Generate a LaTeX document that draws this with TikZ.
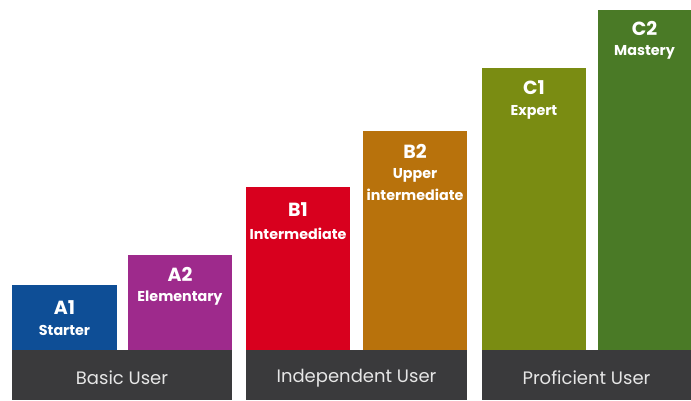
\documentclass[tikz,border=0pt]{standalone}
\usepackage{fontspec}
\setmainfont{Poppins}
\definecolor{cA1}{HTML}{0E4E96}
\definecolor{cA2}{HTML}{9E2A8C}
\definecolor{cB1}{HTML}{D8001E}
\definecolor{cB2}{HTML}{B8720C}
\definecolor{cC1}{HTML}{7A8C12}
\definecolor{cC2}{HTML}{4A7A26}
\definecolor{band}{HTML}{3A3A3C}
\definecolor{bandtxt}{HTML}{E6E6E6}
\tikzset{
  lvl/.style={text=white, font=\fontsize{19}{19}\selectfont\bfseries, inner sep=0pt},
  sub/.style={text=white, font=\fontsize{14.3}{15}\selectfont\bfseries, inner sep=0pt, align=center},
  bandlbl/.style={text=bandtxt, font=\fontsize{18}{18}\selectfont, inner sep=0pt}
}
\begin{document}
\begin{tikzpicture}[x=1pt,y=-1pt]
\useasboundingbox (0,0) rectangle (691,400);
\fill[white] (0,0) rectangle (691,400);
% bars
\fill[cA1] (12,285) rectangle (117,352);
\fill[cA2] (128,255) rectangle (232,352);
\fill[cB1] (246,187) rectangle (350,352);
\fill[cB2] (363,131) rectangle (467,352);
\fill[cC1] (482,68) rectangle (586,352);
\fill[cC2] (598,10) rectangle (691,352);
% bands
\fill[band] (12,350) rectangle (232,400);
\fill[band] (246,350) rectangle (467,400);
\fill[band] (482,350) rectangle (691,400);
% labels
\node[lvl] (a1) at (64.5,308) {A1};
\node[sub] (a1s) at (64.5,330) {Starter};
\node[lvl] (a2) at (180,274) {A2};
\node[sub] (a2s) at (180,298) {Elementary};
\node[lvl] (b1) at (298,210) {B1};
\node[sub] (b1s) at (298,234) {Intermediate};
\node[lvl] (b2) at (415,151) {B2};
\node[sub] (b2t) at (415,175) {Upper};
\node[sub] (b2u) at (415,195) {intermediate};
\node[lvl] (c1) at (534,88) {C1};
\node[sub] (c1s) at (534,112) {Expert};
\node[lvl] (c2) at (644.5,28) {C2};
\node[sub] (c2s) at (644.5,52) {Mastery};
\node[bandlbl] (bu) at (122,378) {Basic User};
\node[bandlbl] (iu) at (356.5,378) {Independent User};
\node[bandlbl] (pu) at (586.5,378) {Proficient User};
\end{tikzpicture}
\end{document}
